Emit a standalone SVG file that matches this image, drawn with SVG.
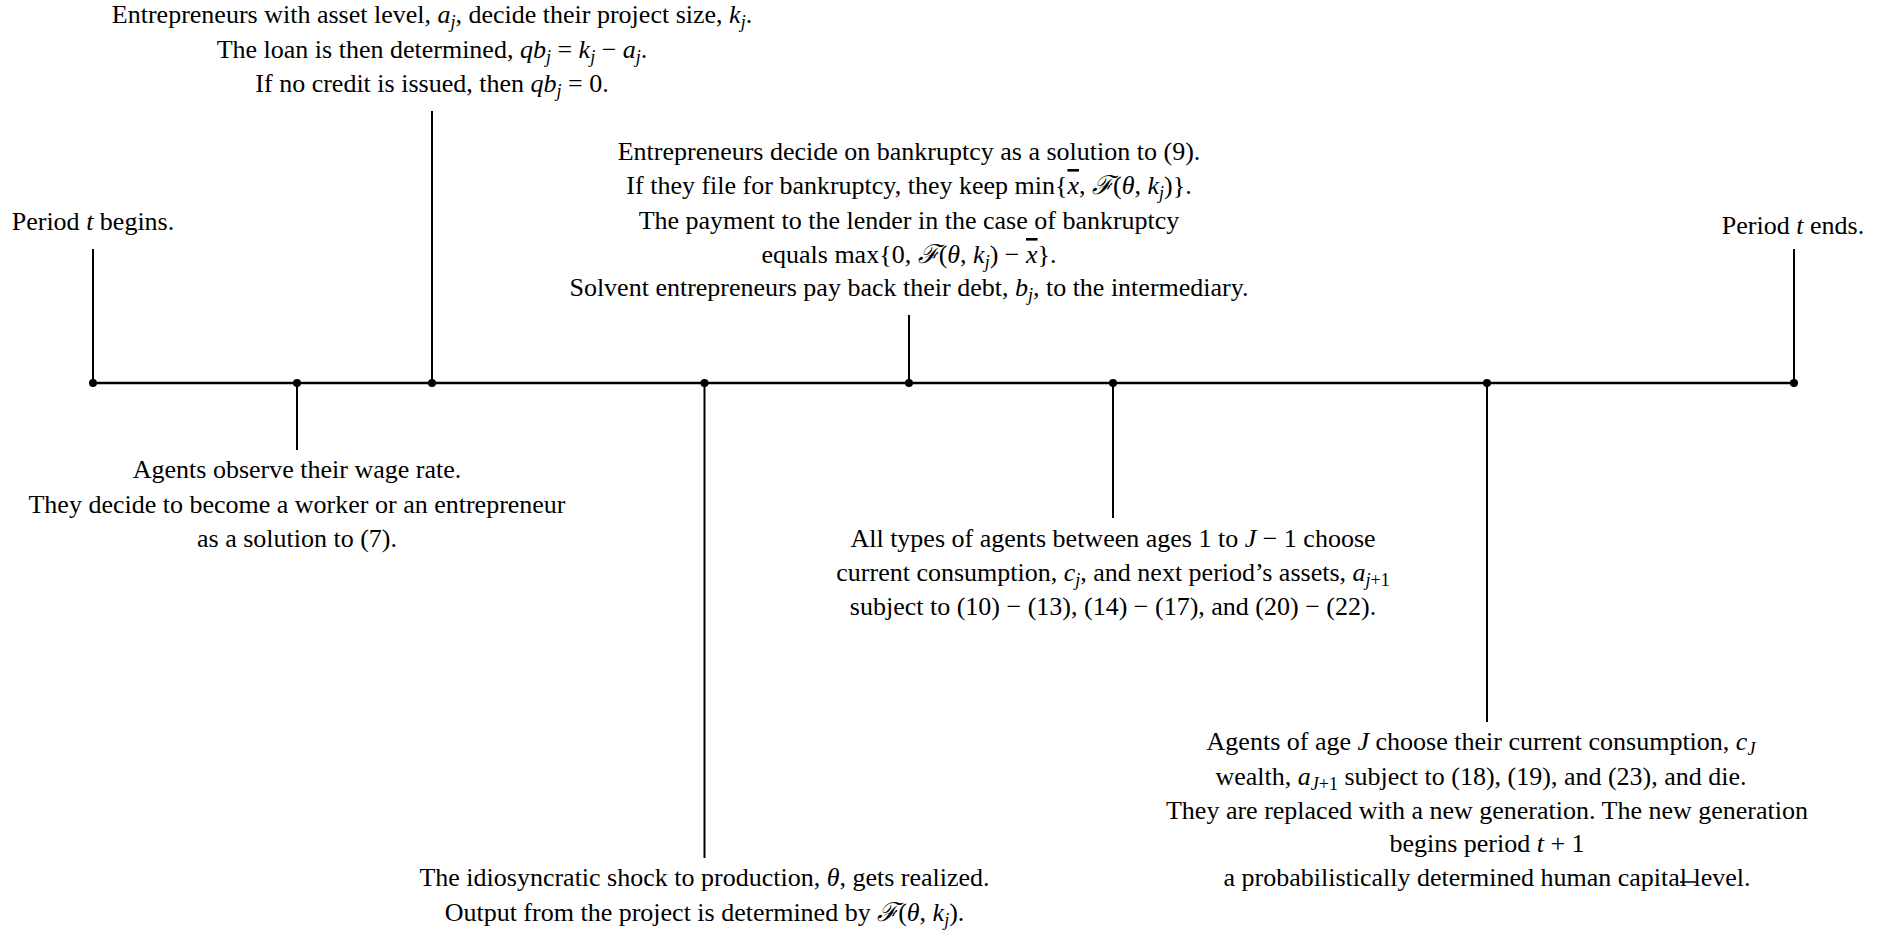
<svg xmlns="http://www.w3.org/2000/svg" width="1888" height="932" viewBox="0 0 1888 932">
<style>
.t{font-family:"Liberation Serif","DejaVu Serif",serif;font-size:26px;fill:#000;text-anchor:middle}
.i{font-style:italic}
.s{font-size:18px;font-style:italic}
.ov{text-decoration:overline}
.ax{stroke:#000;stroke-width:2.4;fill:none}
.tk{stroke:#000;stroke-width:2;fill:none}
.dot{fill:#000}
</style>
<rect width="1888" height="932" fill="#fff"/>
<g id="connectors">
<line class="ax" x1="93" y1="383" x2="1794" y2="383"/>
<line class="tk" x1="93" y1="249" x2="93" y2="383"/>
<line class="tk" x1="297" y1="383" x2="297" y2="450"/>
<line class="tk" x1="432" y1="111" x2="432" y2="383"/>
<line class="tk" x1="704.5" y1="383" x2="704.5" y2="858"/>
<line class="tk" x1="909" y1="315" x2="909" y2="383"/>
<line class="tk" x1="1113" y1="383" x2="1113" y2="518"/>
<line class="tk" x1="1487" y1="383" x2="1487" y2="722"/>
<line class="tk" x1="1794" y1="249" x2="1794" y2="383"/>
<g class="dot">
<circle cx="93" cy="383" r="4"/>
<circle cx="297" cy="383" r="4"/>
<circle cx="432" cy="383" r="4"/>
<circle cx="704.5" cy="383" r="4"/>
<circle cx="909" cy="383" r="4"/>
<circle cx="1113" cy="383" r="4"/>
<circle cx="1487" cy="383" r="4"/>
<circle cx="1794" cy="383" r="4"/>
</g>
</g>
<g id="period-begins">
<text class="t" x="93" y="230">Period <tspan class="i">t</tspan> begins.</text>
</g>
<g id="period-ends">
<text class="t" x="1793" y="234">Period <tspan class="i">t</tspan> ends.</text>
</g>
<g id="project-size">
<text class="t" x="432" y="23">Entrepreneurs with asset level, <tspan class="i">a</tspan><tspan class="s" dy="5">j</tspan><tspan dy="-5">, decide their project size, </tspan><tspan class="i">k</tspan><tspan class="s" dy="5">j</tspan><tspan dy="-5">.</tspan></text>
<text class="t" x="432" y="58">The loan is then determined, <tspan class="i">qb</tspan><tspan class="s" dy="5">j</tspan><tspan dy="-5"> = </tspan><tspan class="i">k</tspan><tspan class="s" dy="5">j</tspan><tspan dy="-5"> − </tspan><tspan class="i">a</tspan><tspan class="s" dy="5">j</tspan><tspan dy="-5">.</tspan></text>
<text class="t" x="432" y="92">If no credit is issued, then <tspan class="i">qb</tspan><tspan class="s" dy="5">j</tspan><tspan dy="-5"> = 0.</tspan></text>
</g>
<g id="wage-rate">
<text class="t" x="297" y="478">Agents observe their wage rate.</text>
<text class="t" x="297" y="513">They decide to become a worker or an entrepreneur</text>
<text class="t" x="297" y="547">as a solution to (7).</text>
</g>
<g id="shock">
<text class="t" x="704.5" y="886">The idiosyncratic shock to production, <tspan class="i">θ</tspan>, gets realized.</text>
<text class="t" x="704.5" y="921">Output from the project is determined by <tspan class="i">ℱ</tspan>(<tspan class="i">θ</tspan>, <tspan class="i">k</tspan><tspan class="s" dy="5">j</tspan><tspan dy="-5">).</tspan></text>
</g>
<g id="bankruptcy">
<text class="t" x="909" y="160">Entrepreneurs decide on bankruptcy as a solution to (9).</text>
<text class="t" x="909" y="194">If they file for bankruptcy, they keep min{<tspan class="i ov">x</tspan>, <tspan class="i">ℱ</tspan>(<tspan class="i">θ</tspan>, <tspan class="i">k</tspan><tspan class="s" dy="5">j</tspan><tspan dy="-5">)}.</tspan></text>
<text class="t" x="909" y="229">The payment to the lender in the case of bankruptcy</text>
<text class="t" x="909" y="263">equals max{0, <tspan class="i">ℱ</tspan>(<tspan class="i">θ</tspan>, <tspan class="i">k</tspan><tspan class="s" dy="5">j</tspan><tspan dy="-5">) − </tspan><tspan class="i ov">x</tspan>}.</text>
<text class="t" x="909" y="296">Solvent entrepreneurs pay back their debt, <tspan class="i">b</tspan><tspan class="s" dy="5">j</tspan><tspan dy="-5">, to the intermediary.</tspan></text>
</g>
<g id="consumption">
<text class="t" x="1113" y="547">All types of agents between ages 1 to <tspan class="i">J</tspan> − 1 choose</text>
<text class="t" x="1113" y="581">current consumption, <tspan class="i">c</tspan><tspan class="s" dy="5">j</tspan><tspan dy="-5">, and next period’s assets, </tspan><tspan class="i">a</tspan><tspan class="s" dy="5">j</tspan><tspan class="s" style="font-style:normal">+1</tspan></text>
<text class="t" x="1113" y="615">subject to (10) − (13), (14) − (17), and (20) − (22).</text>
</g>
<g id="new-generation">
<text class="t" x="1481" y="750">Agents of age <tspan class="i">J</tspan> choose their current consumption, <tspan class="i">c</tspan><tspan class="s" dy="5">J</tspan></text>
<text class="t" x="1481" y="785">wealth, <tspan class="i">a</tspan><tspan class="s" dy="5">J</tspan><tspan class="s" style="font-style:normal">+1</tspan><tspan dy="-5"> subject to (18), (19), and (23), and die.</tspan></text>
<text class="t" x="1487" y="819">They are replaced with a new generation. The new generation</text>
<text class="t" x="1487" y="852">begins period <tspan class="i">t</tspan> + 1</text>
<text class="t" x="1487" y="886">a probabilistically determined human capital level.</text>
<line x1="1680" y1="882" x2="1696" y2="882" stroke="#000" stroke-width="1.5"/>
</g>
</svg>
